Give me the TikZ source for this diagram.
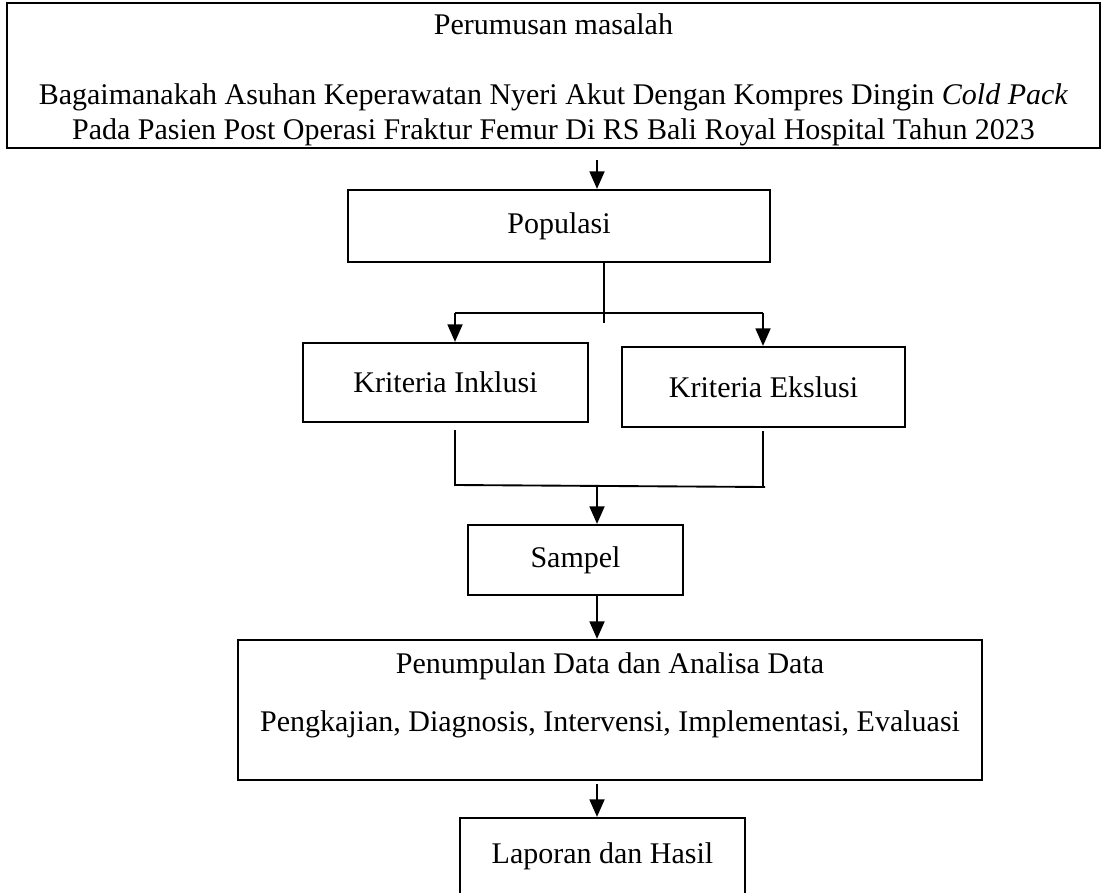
\documentclass[tikz,border=0pt]{standalone}
\usepackage{fontspec}
\setmainfont{Liberation Serif}
\usepackage{tikz}
\usetikzlibrary{arrows.meta}
\tikzset{
  box/.style={draw,line width=0.9pt,align=center,inner sep=0pt},
  conn/.style={line width=0.75pt},
  arr/.style={line width=0.75pt,-{Triangle[length=7pt,width=6pt]}},
}

\begin{document}
\begin{tikzpicture}[x=0.4pt,y=-0.4pt,font=\fontsize{12}{14}\selectfont]
      \useasboundingbox (0,0) rectangle (1104,892);
      \clip (0,0) rectangle (1104,892);
      \node [box,line width=1.1pt,minimum width=437.2pt,minimum height=58pt] (p1) at (553.5,75.5) {\mbox{}\\[-2.3pt]Perumusan masalah\\[14pt]Bagaimanakah Asuhan Keperawatan Nyeri Akut Dengan Kompres Dingin \textit{Cold Pack}\\Pada Pasien Post Operasi Fraktur Femur Di RS Bali Royal Hospital Tahun 2023};
      \node [box,minimum width=168.8pt,minimum height=28.8pt] (p2) at (559,226) {Populasi};
      \node [box,minimum width=114pt,minimum height=31.6pt] (p3) at (445.5,382.5) {Kriteria Inklusi};
      \node [box,minimum width=113.2pt,minimum height=32pt] (p4) at (763.5,387) {Kriteria Ekslusi};
      \node [box,minimum width=86pt,minimum height=28pt] (p5) at (575.5,560) {Sampel};
      \node [box,minimum width=297.6pt,minimum height=56pt] (p6) at (610,710) {Penumpulan Data dan Analisa Data\\[9.2pt]Pengkajian, Diagnosis, Intervensi, Implementasi, Evaluasi\\[0pt]\mbox{}};
      \node [box,minimum width=114pt,minimum height=30.4pt] (p7) at (602.5,856) {Laporan dan Hasil};
      \coordinate (c1) at (597,160);
      \coordinate (c2) at (604,323);
      \coordinate (b1) at (455,313);
      \coordinate (b2) at (763,313);
      \coordinate (e1) at (455,430);
      \coordinate (e2) at (763,431);
      \coordinate (d1) at (455,485);
      \coordinate (d2) at (765,487);
      \coordinate (m) at (597,486);
      \draw [arr] (c1) -- (c1 |- p2.north);
      \draw [conn] (p2.south -| c2) -- (c2);
      \draw [conn] (b1) -- (b2);
      \draw [arr] (b1) -- (b1 |- p3.north);
      \draw [arr] (b2) -- (b2 |- p4.north);
      \draw [conn] (e1) -- (d1) -- (d2);
      \draw [conn] (e2) -- (e2 |- d2);
      \draw [arr] (m) -- (m |- p5.north);
      \draw [arr] (p5.south -| m) -- (m |- p6.north);
      \draw [arr] ([yshift=-1.2pt]p6.south -| m) -- (m |- p7.north);
    \end{tikzpicture}
\end{document}
